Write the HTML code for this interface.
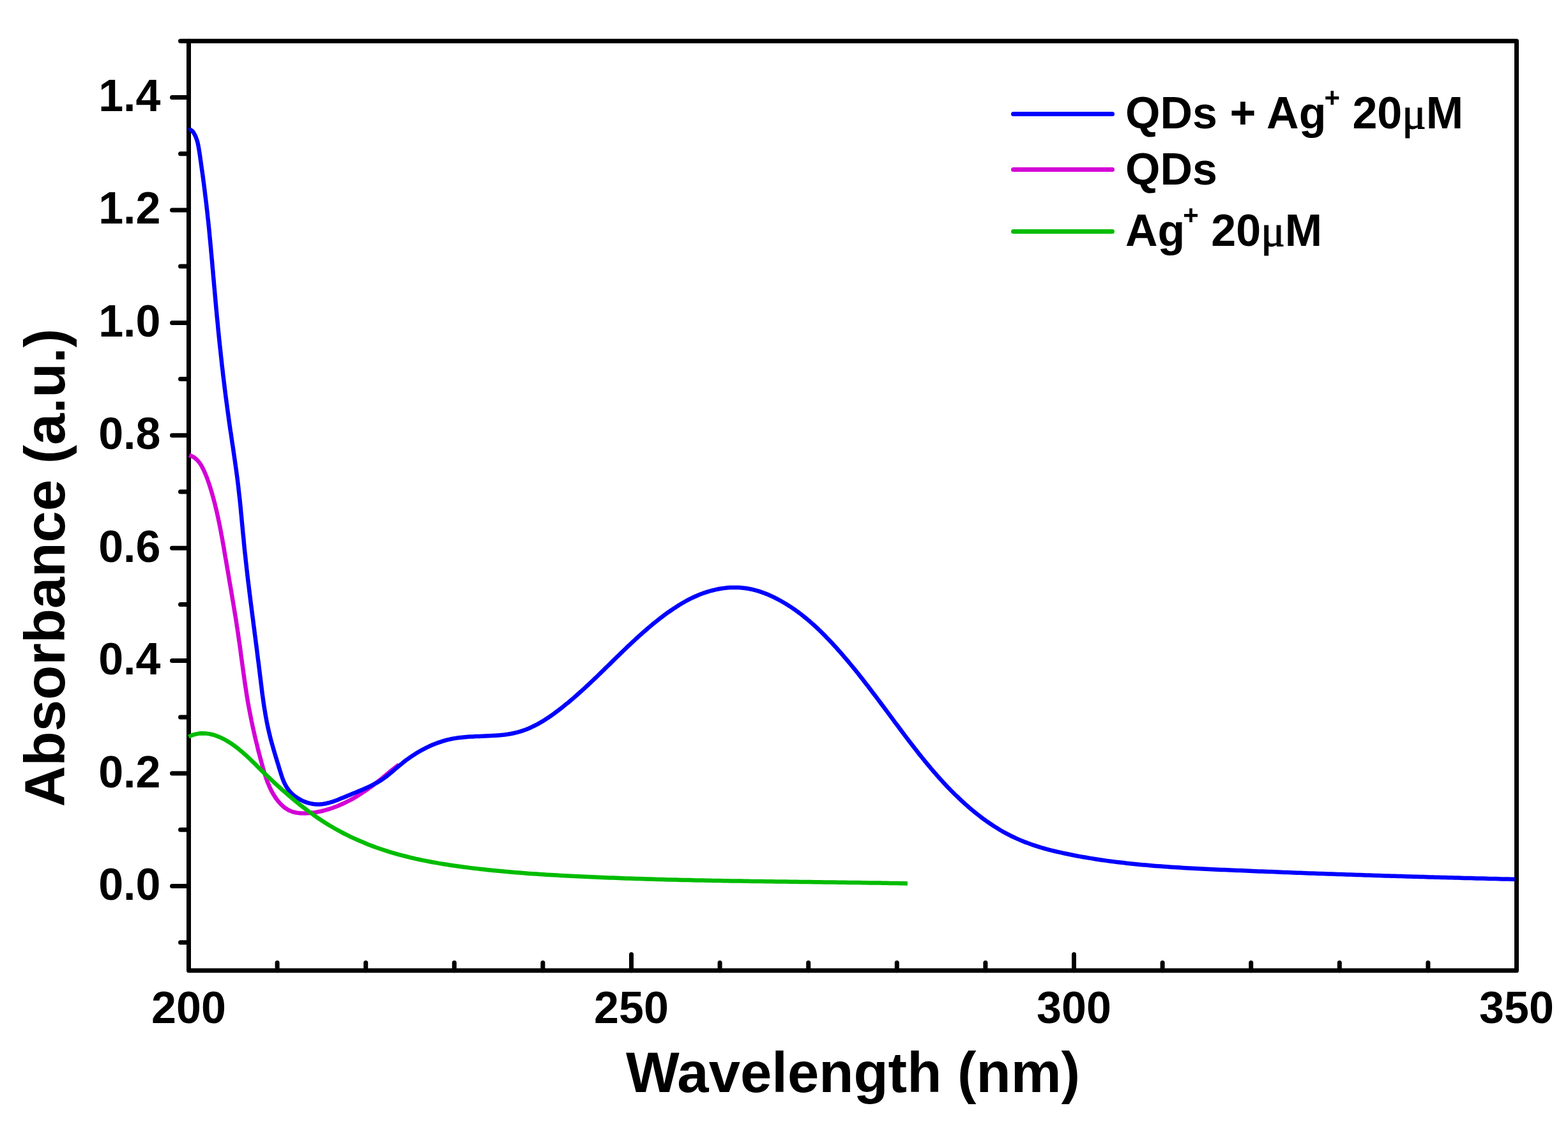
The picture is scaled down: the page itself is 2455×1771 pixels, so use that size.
<!DOCTYPE html>
<html><head><meta charset="utf-8"><style>
html,body{margin:0;padding:0;background:#fff;width:2455px;height:1771px;overflow:hidden}
svg{display:block}
.t{font-family:"Liberation Sans",Arial,sans-serif;font-weight:bold;font-size:70px;fill:#000}
.ti{font-family:"Liberation Sans",Arial,sans-serif;font-weight:bold;font-size:88.7px;fill:#000}
.sup{font-size:42px}
.mu{font-family:"Liberation Serif",serif;font-weight:normal;stroke:#000;stroke-width:1.2px}
</style></head><body>
<svg width="2455" height="1771" viewBox="0 0 2455 1771">
<rect width="2455" height="1771" fill="#fff"/>
<rect x="295.5" y="64.3" width="2079.0" height="1455.5" fill="none" stroke="#000" stroke-width="7" stroke-linejoin="round"/>
<line x1="282.5" y1="1475.7" x2="295.5" y2="1475.7" stroke="#000" stroke-width="7" stroke-linecap="round"/>
<line x1="269.5" y1="1387.5" x2="295.5" y2="1387.5" stroke="#000" stroke-width="7" stroke-linecap="round"/>
<line x1="282.5" y1="1299.3" x2="295.5" y2="1299.3" stroke="#000" stroke-width="7" stroke-linecap="round"/>
<line x1="269.5" y1="1211.1" x2="295.5" y2="1211.1" stroke="#000" stroke-width="7" stroke-linecap="round"/>
<line x1="282.5" y1="1122.9" x2="295.5" y2="1122.9" stroke="#000" stroke-width="7" stroke-linecap="round"/>
<line x1="269.5" y1="1034.6" x2="295.5" y2="1034.6" stroke="#000" stroke-width="7" stroke-linecap="round"/>
<line x1="282.5" y1="946.4" x2="295.5" y2="946.4" stroke="#000" stroke-width="7" stroke-linecap="round"/>
<line x1="269.5" y1="858.2" x2="295.5" y2="858.2" stroke="#000" stroke-width="7" stroke-linecap="round"/>
<line x1="282.5" y1="770.0" x2="295.5" y2="770.0" stroke="#000" stroke-width="7" stroke-linecap="round"/>
<line x1="269.5" y1="681.8" x2="295.5" y2="681.8" stroke="#000" stroke-width="7" stroke-linecap="round"/>
<line x1="282.5" y1="593.6" x2="295.5" y2="593.6" stroke="#000" stroke-width="7" stroke-linecap="round"/>
<line x1="269.5" y1="505.4" x2="295.5" y2="505.4" stroke="#000" stroke-width="7" stroke-linecap="round"/>
<line x1="282.5" y1="417.1" x2="295.5" y2="417.1" stroke="#000" stroke-width="7" stroke-linecap="round"/>
<line x1="269.5" y1="328.9" x2="295.5" y2="328.9" stroke="#000" stroke-width="7" stroke-linecap="round"/>
<line x1="282.5" y1="240.7" x2="295.5" y2="240.7" stroke="#000" stroke-width="7" stroke-linecap="round"/>
<line x1="269.5" y1="152.5" x2="295.5" y2="152.5" stroke="#000" stroke-width="7" stroke-linecap="round"/>
<line x1="282.5" y1="64.3" x2="295.5" y2="64.3" stroke="#000" stroke-width="7" stroke-linecap="round"/>
<line x1="434.1" y1="1519.821" x2="434.1" y2="1507.5" stroke="#000" stroke-width="7" stroke-linecap="round"/>
<line x1="572.7" y1="1519.821" x2="572.7" y2="1507.5" stroke="#000" stroke-width="7" stroke-linecap="round"/>
<line x1="711.3" y1="1519.821" x2="711.3" y2="1507.5" stroke="#000" stroke-width="7" stroke-linecap="round"/>
<line x1="849.9" y1="1519.821" x2="849.9" y2="1507.5" stroke="#000" stroke-width="7" stroke-linecap="round"/>
<line x1="988.5" y1="1519.821" x2="988.5" y2="1494.5" stroke="#000" stroke-width="7" stroke-linecap="round"/>
<line x1="1127.1" y1="1519.821" x2="1127.1" y2="1507.5" stroke="#000" stroke-width="7" stroke-linecap="round"/>
<line x1="1265.7" y1="1519.821" x2="1265.7" y2="1507.5" stroke="#000" stroke-width="7" stroke-linecap="round"/>
<line x1="1404.3" y1="1519.821" x2="1404.3" y2="1507.5" stroke="#000" stroke-width="7" stroke-linecap="round"/>
<line x1="1542.9" y1="1519.821" x2="1542.9" y2="1507.5" stroke="#000" stroke-width="7" stroke-linecap="round"/>
<line x1="1681.5" y1="1519.821" x2="1681.5" y2="1494.5" stroke="#000" stroke-width="7" stroke-linecap="round"/>
<line x1="1820.1" y1="1519.821" x2="1820.1" y2="1507.5" stroke="#000" stroke-width="7" stroke-linecap="round"/>
<line x1="1958.7" y1="1519.821" x2="1958.7" y2="1507.5" stroke="#000" stroke-width="7" stroke-linecap="round"/>
<line x1="2097.3" y1="1519.821" x2="2097.3" y2="1507.5" stroke="#000" stroke-width="7" stroke-linecap="round"/>
<line x1="2235.9" y1="1519.821" x2="2235.9" y2="1507.5" stroke="#000" stroke-width="7" stroke-linecap="round"/>
<text x="251.5" y="1409.0" class="t" text-anchor="end">0.0</text>
<text x="251.5" y="1232.6" class="t" text-anchor="end">0.2</text>
<text x="251.5" y="1056.1" class="t" text-anchor="end">0.4</text>
<text x="251.5" y="879.7" class="t" text-anchor="end">0.6</text>
<text x="251.5" y="703.3" class="t" text-anchor="end">0.8</text>
<text x="251.5" y="526.9" class="t" text-anchor="end">1.0</text>
<text x="251.5" y="350.4" class="t" text-anchor="end">1.2</text>
<text x="251.5" y="174.0" class="t" text-anchor="end">1.4</text>
<text x="295.5" y="1602" class="t" text-anchor="middle">200</text>
<text x="988.5" y="1602" class="t" text-anchor="middle">250</text>
<text x="1681.5" y="1602" class="t" text-anchor="middle">300</text>
<text x="2374.5" y="1602" class="t" text-anchor="middle">350</text>
<text x="1335.5" y="1710" class="ti" text-anchor="middle">Wavelength (nm)</text>
<text transform="translate(101,889) rotate(-90)" class="ti" text-anchor="middle">Absorbance (a.u.)</text>
<line x1="1586.5" y1="178.5" x2="1741.5" y2="178.5" stroke="#0000ff" stroke-width="7" stroke-linecap="round"/>
<line x1="1586.5" y1="265.5" x2="1741.5" y2="265.5" stroke="#d300d6" stroke-width="7" stroke-linecap="round"/>
<line x1="1586.5" y1="362.5" x2="1741.5" y2="362.5" stroke="#00bc00" stroke-width="7" stroke-linecap="round"/>
<text x="1762" y="201" class="t">QDs + Ag<tspan class="sup" dx="-3" dy="-34">+</tspan><tspan dy="34"> 20</tspan><tspan class="mu">μ</tspan>M</text>
<text x="1762" y="289" class="t">QDs</text>
<text x="1762" y="385" class="t">Ag<tspan class="sup" dx="-3" dy="-34">+</tspan><tspan dy="34"> 20</tspan><tspan class="mu">μ</tspan>M</text>
<path d="M296.3,712.8 L299.8,714.1 L303.0,715.7 L305.9,717.8 L308.5,720.1 L310.8,722.7 L313.0,725.5 L314.9,728.5 L316.7,731.7 L318.3,734.9 L319.9,738.2 L321.3,741.5 L322.7,744.9 L324.1,748.3 L325.3,751.8 L326.5,755.3 L327.7,758.8 L328.8,762.3 L329.9,765.8 L331.0,769.3 L332.0,772.8 L333.0,776.4 L334.0,779.9 L334.9,783.4 L335.9,787.0 L336.8,790.5 L337.6,794.1 L338.5,797.6 L339.3,801.2 L340.1,804.7 L340.9,808.3 L341.7,811.9 L342.4,815.4 L343.2,819.0 L343.9,822.6 L344.6,826.1 L345.3,829.7 L346.0,833.3 L346.6,836.9 L347.3,840.4 L348.0,844.0 L348.6,847.6 L349.2,851.2 L349.9,854.8 L350.5,858.4 L351.1,862.0 L351.7,865.6 L352.3,869.2 L352.9,872.8 L353.6,876.3 L354.2,879.9 L354.8,883.5 L355.4,887.1 L356.0,890.7 L356.7,894.3 L357.3,897.9 L357.9,901.5 L358.5,905.1 L359.1,908.8 L359.7,912.4 L360.4,916.0 L361.0,919.6 L361.6,923.2 L362.2,926.8 L362.8,930.4 L363.4,934.0 L364.0,937.6 L364.6,941.2 L365.2,944.8 L365.8,948.4 L366.4,952.0 L367.0,955.7 L367.6,959.3 L368.2,962.9 L368.8,966.5 L369.4,970.1 L369.9,973.7 L370.5,977.3 L371.0,981.0 L371.6,984.6 L372.1,988.2 L372.7,991.8 L373.2,995.4 L373.7,999.0 L374.2,1002.7 L374.8,1006.3 L375.3,1009.9 L375.8,1013.5 L376.3,1017.1 L376.8,1020.8 L377.2,1024.4 L377.7,1028.0 L378.2,1031.6 L378.7,1035.2 L379.2,1038.9 L379.7,1042.5 L380.2,1046.1 L380.7,1049.7 L381.2,1053.3 L381.7,1057.0 L382.2,1060.6 L382.7,1064.2 L383.2,1067.8 L383.7,1071.4 L384.3,1075.0 L384.8,1078.6 L385.4,1082.3 L385.9,1085.9 L386.5,1089.5 L387.1,1093.1 L387.7,1096.7 L388.3,1100.3 L389.0,1103.9 L389.6,1107.5 L390.3,1111.1 L391.0,1114.7 L391.7,1118.3 L392.4,1121.9 L393.1,1125.5 L393.8,1129.1 L394.6,1132.6 L395.3,1136.2 L396.1,1139.8 L396.9,1143.4 L397.7,1147.0 L398.5,1150.5 L399.3,1154.1 L400.2,1157.6 L401.0,1161.2 L401.9,1164.8 L402.8,1168.3 L403.6,1171.8 L404.5,1175.4 L405.4,1178.9 L406.4,1182.4 L407.3,1186.0 L408.2,1189.5 L409.2,1193.0 L410.1,1196.5 L411.1,1200.0 L412.0,1203.5 L413.0,1207.0 L414.1,1210.5 L415.2,1213.9 L416.3,1217.4 L417.5,1220.8 L418.7,1224.2 L420.1,1227.6 L421.5,1231.0 L423.0,1234.3 L424.7,1237.7 L426.4,1241.0 L428.3,1244.2 L430.3,1247.4 L432.4,1250.6 L434.7,1253.6 L437.0,1256.4 L439.5,1259.2 L442.2,1261.7 L444.9,1264.0 L447.8,1266.1 L450.8,1268.0 L453.9,1269.5 L457.2,1270.8 L460.5,1271.8 L464.0,1272.5 L467.5,1273.1 L471.1,1273.4 L474.8,1273.5 L478.4,1273.5 L482.1,1273.3 L485.8,1273.0 L489.5,1272.6 L493.1,1272.1 L496.7,1271.5 L500.3,1270.8 L503.9,1270.0 L507.5,1269.1 L511.0,1268.1 L514.5,1267.1 L518.0,1266.0 L521.5,1264.8 L524.9,1263.5 L528.4,1262.2 L531.8,1260.8 L535.1,1259.3 L538.5,1257.8 L541.8,1256.2 L545.0,1254.5 L548.3,1252.8 L551.5,1251.1 L554.7,1249.3 L557.8,1247.4 L560.9,1245.5 L564.0,1243.6 L567.0,1241.6 L570.1,1239.6 L573.0,1237.6 L576.0,1235.5 L578.9,1233.4 L581.8,1231.3 L584.7,1229.1 L587.6,1226.9 L590.5,1224.7 L593.3,1222.4 L596.1,1220.2 L598.9,1217.9 L601.8,1215.6 L604.6,1213.2 L607.4,1210.9 L610.2,1208.6 L613.0,1206.3 L615.9,1204.0 L618.8,1201.7 L621.7,1199.5 L624.6,1197.3" fill="none" stroke="#d300d6" stroke-width="6.5" stroke-linejoin="round"/>
<path d="M295.6,204.5 L298.3,203.1 L301.2,205.1 L303.8,208.9 L306.0,213.1 L307.7,217.6 L309.2,222.3 L310.3,227.2 L311.2,232.1 L312.0,237.1 L312.8,242.1 L313.5,247.1 L314.2,252.1 L314.9,257.1 L315.6,262.0 L316.3,267.0 L317.0,271.9 L317.7,276.8 L318.3,281.7 L319.0,286.6 L319.6,291.4 L320.2,296.3 L320.8,301.2 L321.4,306.1 L322.0,310.9 L322.6,315.8 L323.2,320.7 L323.7,325.6 L324.3,330.5 L324.8,335.4 L325.3,340.3 L325.9,345.2 L326.4,350.1 L326.9,355.0 L327.4,359.9 L327.9,364.8 L328.3,369.8 L328.8,374.7 L329.3,379.6 L329.7,384.5 L330.2,389.4 L330.6,394.4 L331.1,399.3 L331.5,404.2 L332.0,409.1 L332.4,414.1 L332.8,419.0 L333.3,423.9 L333.7,428.9 L334.1,433.8 L334.6,438.7 L335.0,443.7 L335.4,448.6 L335.9,453.5 L336.3,458.4 L336.8,463.4 L337.2,468.3 L337.6,473.2 L338.1,478.2 L338.5,483.1 L339.0,488.0 L339.4,493.0 L339.9,497.9 L340.4,502.8 L340.9,507.7 L341.3,512.6 L341.8,517.6 L342.3,522.5 L342.8,527.4 L343.3,532.3 L343.8,537.2 L344.3,542.2 L344.9,547.1 L345.4,552.0 L345.9,556.9 L346.5,561.8 L347.0,566.7 L347.5,571.6 L348.1,576.5 L348.7,581.4 L349.2,586.3 L349.8,591.2 L350.4,596.1 L351.0,601.0 L351.6,606.0 L352.2,610.9 L352.8,615.7 L353.4,620.6 L354.1,625.5 L354.7,630.4 L355.4,635.3 L356.0,640.2 L356.7,645.1 L357.4,650.0 L358.0,654.9 L358.7,659.8 L359.4,664.7 L360.1,669.6 L360.8,674.5 L361.6,679.3 L362.3,684.2 L363.0,689.1 L363.7,694.0 L364.5,698.9 L365.2,703.8 L365.9,708.7 L366.6,713.5 L367.3,718.4 L368.0,723.3 L368.7,728.2 L369.4,733.1 L370.1,738.0 L370.7,742.9 L371.4,747.8 L372.0,752.7 L372.6,757.6 L373.2,762.5 L373.7,767.4 L374.3,772.3 L374.8,777.2 L375.4,782.2 L375.9,787.1 L376.4,792.0 L376.9,796.9 L377.3,801.8 L377.8,806.7 L378.3,811.7 L378.7,816.6 L379.2,821.5 L379.7,826.4 L380.1,831.4 L380.6,836.3 L381.1,841.2 L381.6,846.1 L382.0,851.0 L382.5,856.0 L383.0,860.9 L383.5,865.8 L384.1,870.7 L384.6,875.6 L385.1,880.5 L385.7,885.4 L386.2,890.4 L386.8,895.3 L387.3,900.2 L387.9,905.1 L388.5,910.0 L389.1,914.9 L389.7,919.8 L390.3,924.7 L390.9,929.6 L391.5,934.5 L392.1,939.4 L392.7,944.3 L393.4,949.2 L394.0,954.1 L394.6,959.0 L395.2,963.9 L395.9,968.8 L396.5,973.7 L397.1,978.6 L397.8,983.5 L398.4,988.4 L399.0,993.3 L399.7,998.2 L400.3,1003.1 L400.9,1008.0 L401.6,1013.0 L402.2,1017.9 L402.8,1022.8 L403.4,1027.7 L404.0,1032.6 L404.7,1037.5 L405.3,1042.4 L405.9,1047.3 L406.5,1052.2 L407.1,1057.1 L407.7,1062.0 L408.3,1066.9 L408.9,1071.8 L409.5,1076.7 L410.1,1081.7 L410.7,1086.5 L411.4,1091.4 L412.1,1096.3 L412.8,1101.2 L413.5,1106.1 L414.3,1111.0 L415.1,1115.8 L415.9,1120.7 L416.8,1125.5 L417.7,1130.4 L418.7,1135.2 L419.7,1140.0 L420.8,1144.8 L421.9,1149.6 L423.1,1154.4 L424.3,1159.2 L425.6,1163.9 L427.0,1168.7 L428.3,1173.4 L429.7,1178.2 L431.1,1182.9 L432.6,1187.7 L434.0,1192.5 L435.5,1197.2 L436.9,1202.0 L438.4,1206.8 L439.9,1211.6 L441.4,1216.3 L443.1,1221.0 L445.0,1225.5 L447.2,1229.9 L449.7,1234.0 L452.6,1238.0 L455.9,1241.6 L459.5,1245.0 L463.4,1248.0 L467.5,1250.7 L471.9,1253.1 L476.4,1255.2 L481.1,1256.8 L485.9,1258.1 L490.8,1259.0 L495.7,1259.4 L500.6,1259.4 L505.5,1259.0 L510.3,1258.2 L515.1,1257.0 L519.9,1255.6 L524.6,1254.0 L529.3,1252.2 L533.9,1250.3 L538.5,1248.4 L543.1,1246.6 L547.6,1244.7 L552.2,1242.8 L556.7,1241.0 L561.2,1239.1 L565.7,1237.2 L570.3,1235.2 L574.8,1233.2 L579.3,1231.1 L583.7,1229.0 L588.1,1226.7 L592.4,1224.3 L596.6,1221.7 L600.7,1218.9 L604.7,1216.0 L608.6,1212.9 L612.4,1209.8 L616.2,1206.5 L620.0,1203.3 L623.8,1200.0 L627.6,1196.9 L631.5,1193.7 L635.4,1190.7 L639.4,1187.8 L643.5,1184.9 L647.6,1182.2 L651.8,1179.6 L656.0,1177.0 L660.2,1174.6 L664.6,1172.3 L668.9,1170.1 L673.4,1168.0 L677.8,1166.1 L682.4,1164.3 L686.9,1162.6 L691.6,1161.1 L696.2,1159.7 L700.9,1158.4 L705.7,1157.3 L710.5,1156.4 L715.4,1155.6 L720.3,1155.0 L725.2,1154.4 L730.1,1154.0 L735.1,1153.6 L740.1,1153.4 L745.1,1153.1 L750.1,1152.9 L755.1,1152.7 L760.2,1152.5 L765.2,1152.3 L770.2,1152.1 L775.2,1151.8 L780.1,1151.4 L785.1,1151.0 L790.0,1150.5 L794.9,1149.8 L799.7,1149.0 L804.5,1148.0 L809.2,1146.9 L813.9,1145.6 L818.5,1144.1 L823.1,1142.5 L827.6,1140.7 L832.1,1138.7 L836.5,1136.5 L840.9,1134.3 L845.2,1131.9 L849.5,1129.4 L853.7,1126.8 L857.9,1124.1 L862.0,1121.3 L866.1,1118.4 L870.1,1115.4 L874.1,1112.4 L878.1,1109.4 L882.0,1106.3 L885.9,1103.1 L889.8,1100.0 L893.6,1096.8 L897.3,1093.6 L901.1,1090.3 L904.8,1087.0 L908.5,1083.7 L912.2,1080.4 L915.8,1077.1 L919.4,1073.7 L923.1,1070.4 L926.6,1067.0 L930.2,1063.6 L933.8,1060.2 L937.3,1056.7 L940.8,1053.3 L944.4,1049.9 L947.9,1046.4 L951.4,1043.0 L954.9,1039.6 L958.4,1036.1 L961.9,1032.7 L965.4,1029.2 L969.0,1025.8 L972.5,1022.4 L976.0,1019.0 L979.6,1015.6 L983.1,1012.2 L986.7,1008.8 L990.3,1005.4 L993.9,1002.1 L997.5,998.7 L1001.2,995.4 L1004.8,992.2 L1008.5,988.9 L1012.3,985.7 L1016.0,982.4 L1019.8,979.3 L1023.6,976.1 L1027.5,973.0 L1031.3,969.9 L1035.3,966.9 L1039.2,963.9 L1043.2,960.9 L1047.3,958.0 L1051.4,955.2 L1055.5,952.4 L1059.7,949.7 L1063.9,947.0 L1068.2,944.5 L1072.5,942.0 L1076.8,939.7 L1081.2,937.4 L1085.7,935.3 L1090.2,933.2 L1094.7,931.3 L1099.3,929.5 L1104.0,927.9 L1108.7,926.4 L1113.4,925.0 L1118.2,923.8 L1123.0,922.7 L1127.8,921.8 L1132.7,921.1 L1137.6,920.5 L1142.4,920.1 L1147.3,919.9 L1152.2,919.9 L1157.1,920.1 L1161.9,920.4 L1166.8,921.0 L1171.6,921.8 L1176.5,922.7 L1181.2,923.9 L1186.0,925.2 L1190.7,926.7 L1195.4,928.3 L1200.1,930.1 L1204.7,932.0 L1209.2,934.1 L1213.8,936.3 L1218.2,938.6 L1222.6,941.0 L1227.0,943.5 L1231.2,946.0 L1235.5,948.7 L1239.6,951.4 L1243.7,954.2 L1247.7,957.1 L1251.7,960.0 L1255.6,963.0 L1259.5,966.1 L1263.3,969.2 L1267.0,972.3 L1270.7,975.6 L1274.4,978.8 L1278.0,982.2 L1281.6,985.5 L1285.1,988.9 L1288.6,992.4 L1292.1,995.9 L1295.5,999.4 L1298.9,1003.0 L1302.3,1006.6 L1305.6,1010.2 L1308.9,1013.8 L1312.2,1017.5 L1315.5,1021.2 L1318.7,1024.9 L1321.9,1028.6 L1325.1,1032.4 L1328.3,1036.2 L1331.5,1040.0 L1334.6,1043.8 L1337.8,1047.6 L1340.9,1051.5 L1344.0,1055.3 L1347.0,1059.2 L1350.1,1063.1 L1353.1,1067.0 L1356.2,1070.9 L1359.2,1074.8 L1362.2,1078.8 L1365.2,1082.7 L1368.2,1086.7 L1371.2,1090.6 L1374.2,1094.6 L1377.2,1098.5 L1380.1,1102.5 L1383.1,1106.5 L1386.1,1110.5 L1389.0,1114.4 L1392.0,1118.4 L1394.9,1122.4 L1397.9,1126.4 L1400.8,1130.4 L1403.8,1134.3 L1406.8,1138.3 L1409.7,1142.2 L1412.7,1146.2 L1415.6,1150.1 L1418.6,1154.1 L1421.6,1158.0 L1424.6,1161.9 L1427.6,1165.8 L1430.6,1169.7 L1433.6,1173.6 L1436.7,1177.5 L1439.7,1181.4 L1442.8,1185.2 L1445.9,1189.0 L1449.0,1192.9 L1452.1,1196.6 L1455.3,1200.4 L1458.4,1204.2 L1461.6,1207.9 L1464.9,1211.6 L1468.1,1215.3 L1471.4,1219.0 L1474.7,1222.6 L1478.0,1226.3 L1481.4,1229.9 L1484.8,1233.4 L1488.2,1237.0 L1491.7,1240.5 L1495.2,1244.0 L1498.8,1247.4 L1502.4,1250.9 L1506.0,1254.3 L1509.7,1257.6 L1513.4,1260.9 L1517.1,1264.2 L1520.9,1267.4 L1524.7,1270.6 L1528.6,1273.7 L1532.5,1276.8 L1536.4,1279.8 L1540.4,1282.8 L1544.4,1285.7 L1548.5,1288.5 L1552.6,1291.3 L1556.7,1294.0 L1560.9,1296.6 L1565.1,1299.2 L1569.4,1301.7 L1573.7,1304.1 L1578.0,1306.4 L1582.4,1308.7 L1586.8,1310.8 L1591.3,1312.9 L1595.8,1314.9 L1600.3,1316.8 L1604.9,1318.6 L1609.5,1320.3 L1614.1,1322.0 L1618.8,1323.6 L1623.5,1325.1 L1628.2,1326.6 L1632.9,1328.0 L1637.7,1329.3 L1642.4,1330.6 L1647.2,1331.8 L1652.0,1333.0 L1656.9,1334.1 L1661.7,1335.2 L1666.5,1336.3 L1671.4,1337.3 L1676.3,1338.3 L1681.1,1339.3 L1686.0,1340.2 L1690.8,1341.1 L1695.7,1342.0 L1700.6,1342.8 L1705.5,1343.6 L1710.3,1344.4 L1715.2,1345.2 L1720.1,1346.0 L1725.0,1346.7 L1729.9,1347.4 L1734.8,1348.1 L1739.7,1348.7 L1744.6,1349.4 L1749.5,1350.0 L1754.4,1350.6 L1759.3,1351.1 L1764.2,1351.7 L1769.1,1352.2 L1774.0,1352.7 L1778.9,1353.2 L1783.8,1353.7 L1788.8,1354.2 L1793.7,1354.6 L1798.6,1355.1 L1803.5,1355.5 L1808.4,1355.9 L1813.4,1356.3 L1818.3,1356.6 L1823.2,1357.0 L1828.2,1357.3 L1833.1,1357.7 L1838.0,1358.0 L1843.0,1358.3 L1847.9,1358.6 L1852.8,1358.9 L1857.8,1359.2 L1862.7,1359.5 L1867.7,1359.7 L1872.6,1360.0 L1877.5,1360.3 L1882.5,1360.5 L1887.4,1360.7 L1892.4,1361.0 L1897.3,1361.2 L1902.2,1361.4 L1907.2,1361.7 L1912.1,1361.9 L1917.1,1362.1 L1922.0,1362.3 L1926.9,1362.5 L1931.9,1362.7 L1936.8,1362.9 L1941.8,1363.1 L1946.7,1363.3 L1951.7,1363.6 L1956.6,1363.8 L1961.5,1364.0 L1966.5,1364.2 L1971.4,1364.4 L1976.4,1364.6 L1981.3,1364.8 L1986.2,1365.0 L1991.2,1365.1 L1996.1,1365.3 L2001.1,1365.5 L2006.0,1365.7 L2010.9,1365.9 L2015.9,1366.1 L2020.8,1366.3 L2025.8,1366.5 L2030.7,1366.7 L2035.6,1366.8 L2040.6,1367.0 L2045.5,1367.2 L2050.5,1367.4 L2055.4,1367.6 L2060.3,1367.7 L2065.3,1367.9 L2070.2,1368.1 L2075.1,1368.3 L2080.1,1368.4 L2085.0,1368.6 L2090.0,1368.8 L2094.9,1369.0 L2099.8,1369.1 L2104.8,1369.3 L2109.7,1369.5 L2114.7,1369.6 L2119.6,1369.8 L2124.5,1369.9 L2129.5,1370.1 L2134.4,1370.3 L2139.4,1370.4 L2144.3,1370.6 L2149.2,1370.7 L2154.2,1370.9 L2159.1,1371.1 L2164.0,1371.2 L2169.0,1371.4 L2173.9,1371.5 L2178.9,1371.7 L2183.8,1371.8 L2188.7,1372.0 L2193.7,1372.1 L2198.6,1372.3 L2203.6,1372.4 L2208.5,1372.5 L2213.4,1372.7 L2218.4,1372.8 L2223.3,1373.0 L2228.3,1373.1 L2233.2,1373.3 L2238.1,1373.4 L2243.1,1373.5 L2248.0,1373.7 L2253.0,1373.8 L2257.9,1373.9 L2262.9,1374.1 L2267.8,1374.2 L2272.7,1374.3 L2277.7,1374.5 L2282.6,1374.6 L2287.6,1374.7 L2292.5,1374.9 L2297.5,1375.0 L2302.4,1375.1 L2307.3,1375.2 L2312.3,1375.4 L2317.2,1375.5 L2322.2,1375.6 L2327.1,1375.7 L2332.1,1375.9 L2337.0,1376.0 L2342.0,1376.1 L2346.9,1376.2 L2351.8,1376.4 L2356.8,1376.5 L2361.7,1376.6 L2366.7,1376.7 L2371.6,1376.8" fill="none" stroke="#0000ff" stroke-width="6.5" stroke-linejoin="round"/>
<path d="M295.4,1153.6 L300.8,1151.2 L306.2,1149.6 L311.5,1148.6 L316.8,1148.2 L322.1,1148.4 L327.3,1149.1 L332.4,1150.2 L337.4,1151.7 L342.4,1153.6 L347.3,1155.8 L352.0,1158.2 L356.7,1160.9 L361.2,1163.8 L365.6,1166.8 L370.0,1170.0 L374.3,1173.4 L378.5,1176.9 L382.6,1180.5 L386.7,1184.2 L390.7,1188.0 L394.7,1191.8 L398.7,1195.7 L402.6,1199.6 L406.5,1203.5 L410.4,1207.3 L414.3,1211.1 L418.2,1214.9 L422.2,1218.6 L426.1,1222.3 L430.0,1226.0 L434.0,1229.6 L437.9,1233.2 L441.9,1236.8 L446.0,1240.3 L450.0,1243.8 L454.1,1247.3 L458.2,1250.8 L462.4,1254.2 L466.6,1257.7 L470.9,1261.1 L475.2,1264.4 L479.5,1267.7 L483.9,1271.0 L488.3,1274.2 L492.7,1277.4 L497.2,1280.5 L501.7,1283.5 L506.3,1286.5 L510.9,1289.4 L515.5,1292.3 L520.2,1295.0 L524.9,1297.7 L529.7,1300.4 L534.4,1303.0 L539.3,1305.5 L544.1,1307.9 L549.0,1310.3 L553.9,1312.6 L558.8,1314.8 L563.8,1317.0 L568.8,1319.1 L573.8,1321.2 L578.8,1323.2 L583.9,1325.1 L588.9,1327.0 L594.1,1328.8 L599.2,1330.5 L604.3,1332.2 L609.5,1333.8 L614.7,1335.3 L619.9,1336.8 L625.1,1338.3 L630.3,1339.7 L635.6,1341.0 L640.9,1342.3 L646.2,1343.6 L651.5,1344.8 L656.8,1346.0 L662.1,1347.1 L667.4,1348.1 L672.8,1349.2 L678.1,1350.2 L683.5,1351.1 L688.8,1352.1 L694.2,1353.0 L699.6,1353.8 L705.0,1354.7 L710.4,1355.5 L715.8,1356.2 L721.2,1357.0 L726.6,1357.7 L732.0,1358.4 L737.4,1359.1 L742.8,1359.7 L748.2,1360.4 L753.6,1361.0 L759.0,1361.6 L764.4,1362.2 L769.8,1362.7 L775.2,1363.3 L780.6,1363.8 L786.0,1364.3 L791.4,1364.8 L796.8,1365.3 L802.2,1365.8 L807.6,1366.2 L813.1,1366.6 L818.5,1367.1 L823.9,1367.5 L829.3,1367.9 L834.7,1368.3 L840.1,1368.6 L845.5,1369.0 L850.9,1369.3 L856.4,1369.7 L861.8,1370.0 L867.2,1370.3 L872.6,1370.6 L878.0,1370.9 L883.4,1371.2 L888.9,1371.5 L894.3,1371.8 L899.7,1372.0 L905.1,1372.3 L910.5,1372.6 L916.0,1372.8 L921.4,1373.1 L926.8,1373.3 L932.2,1373.5 L937.6,1373.8 L943.1,1374.0 L948.5,1374.2 L953.9,1374.4 L959.3,1374.6 L964.8,1374.8 L970.2,1375.0 L975.6,1375.2 L981.1,1375.4 L986.5,1375.6 L991.9,1375.8 L997.3,1376.0 L1002.8,1376.1 L1008.2,1376.3 L1013.6,1376.5 L1019.1,1376.6 L1024.5,1376.8 L1029.9,1376.9 L1035.3,1377.1 L1040.8,1377.2 L1046.2,1377.4 L1051.6,1377.5 L1057.1,1377.6 L1062.5,1377.8 L1067.9,1377.9 L1073.4,1378.0 L1078.8,1378.1 L1084.2,1378.2 L1089.7,1378.4 L1095.1,1378.5 L1100.5,1378.6 L1106.0,1378.7 L1111.4,1378.8 L1116.8,1378.9 L1122.3,1379.0 L1127.7,1379.1 L1133.1,1379.2 L1138.6,1379.3 L1144.0,1379.4 L1149.4,1379.4 L1154.9,1379.5 L1160.3,1379.6 L1165.7,1379.7 L1171.2,1379.8 L1176.6,1379.9 L1182.0,1379.9 L1187.5,1380.0 L1192.9,1380.1 L1198.3,1380.2 L1203.8,1380.2 L1209.2,1380.3 L1214.6,1380.4 L1220.1,1380.5 L1225.5,1380.5 L1230.9,1380.6 L1236.4,1380.7 L1241.8,1380.7 L1247.2,1380.8 L1252.7,1380.9 L1258.1,1380.9 L1263.5,1381.0 L1269.0,1381.1 L1274.4,1381.2 L1279.8,1381.2 L1285.3,1381.3 L1290.7,1381.4 L1296.1,1381.4 L1301.6,1381.5 L1307.0,1381.6 L1312.4,1381.7 L1317.8,1381.7 L1323.3,1381.8 L1328.7,1381.9 L1334.1,1382.0 L1339.6,1382.0 L1345.0,1382.1 L1350.4,1382.2 L1355.9,1382.3 L1361.3,1382.4 L1366.7,1382.5 L1372.1,1382.5 L1377.6,1382.6 L1383.0,1382.7 L1388.4,1382.8 L1393.8,1382.9 L1399.3,1383.0 L1404.7,1383.1 L1410.1,1383.2 L1415.5,1383.3 L1420.9,1383.4" fill="none" stroke="#00bc00" stroke-width="6.5" stroke-linejoin="round"/>
</svg>
</body></html>
